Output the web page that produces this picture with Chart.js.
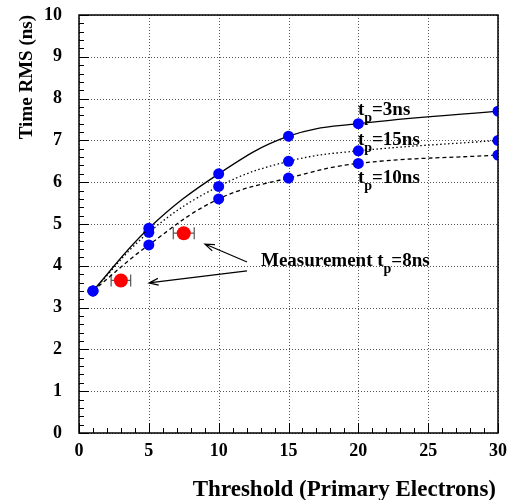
<!DOCTYPE html>
<html>
<head>
<meta charset="utf-8">
<script src="https://cdn.jsdelivr.net/npm/chart.js@4"></script>
<style>
  html, body { margin: 0; padding: 0; background: #fff; }
  #wrap { width: 509px; height: 500px; }
</style>
</head>
<body>
<div id="wrap"><canvas id="myChart" width="509" height="500"></canvas></div>
<script>
// thresholds (primary electrons)
var threshold = [1, 5, 10, 15, 20, 30];
// time RMS (ns) for each peaking time
var rms_tp3  = [3.4, 4.9, 6.2, 7.1, 7.4, 7.7];
var rms_tp15 = [3.4, 4.8, 5.9, 6.5, 6.75, 7.0];
var rms_tp10 = [3.4, 4.5, 5.6, 6.1, 6.45, 6.65];
// measurement tp=8ns
var measX   = [3.0, 7.5];
var measY   = [3.65, 4.78];
var measErr = [0.7, 0.75];

var xTicks = [0, 5, 10, 15, 20, 25, 30];
var yTicks = [0, 1, 2, 3, 4, 5, 6, 7, 8, 9, 10];

function pts(xs, ys) {
  var out = [];
  for (var i = 0; i < xs.length; i++) out.push({x: xs[i], y: ys[i]});
  return out;
}

var FONT = "'Liberation Serif', 'Times New Roman', serif";

// text with a "p" subscript after "t"
function subText(ctx, x, y, pre, post, size) {
  ctx.font = 'bold ' + size + 'px ' + FONT;
  ctx.fillText(pre + 't', x, y);
  var w = ctx.measureText(pre + 't').width;
  ctx.font = 'bold ' + Math.round(size * 0.72) + 'px ' + FONT;
  ctx.fillText('p', x + w, y + 7);
  var w2 = ctx.measureText('p').width;
  ctx.font = 'bold ' + size + 'px ' + FONT;
  ctx.fillText(post, x + w + w2, y);
}

function arrow(ctx, x1, y1, x2, y2) {
  ctx.beginPath();
  ctx.moveTo(x1, y1);
  ctx.lineTo(x2, y2);
  var a = Math.atan2(y2 - y1, x2 - x1);
  var L = 10, s = 0.35;
  ctx.moveTo(x2 - L * Math.cos(a - s), y2 - L * Math.sin(a - s));
  ctx.lineTo(x2, y2);
  ctx.lineTo(x2 - L * Math.cos(a + s), y2 - L * Math.sin(a + s));
  ctx.stroke();
}

const rootStyle = {
  id: 'rootStyle',
  beforeDatasetsDraw(chart) {
    var ctx = chart.ctx, a = chart.chartArea, xs = chart.scales.x, ys = chart.scales.y;
    ctx.save();
    // dotted grid at major ticks
    ctx.strokeStyle = '#555';
    ctx.lineWidth = 1;
    ctx.setLineDash([1, 2]);
    ctx.beginPath();
    xTicks.forEach(function (v) {
      var px = Math.round(xs.getPixelForValue(v)) + 0.5;
      ctx.moveTo(px, a.top); ctx.lineTo(px, a.bottom);
    });
    yTicks.forEach(function (v) {
      var py = Math.round(ys.getPixelForValue(v)) + 0.5;
      ctx.moveTo(a.left, py); ctx.lineTo(a.right, py);
    });
    ctx.stroke();
    ctx.setLineDash([]);
    // error bars of the measurement
    ctx.strokeStyle = '#555';
    ctx.lineWidth = 1.2;
    for (var i = 0; i < measX.length; i++) {
      var x1 = xs.getPixelForValue(measX[i] - measErr[i]);
      var x2 = xs.getPixelForValue(measX[i] + measErr[i]);
      var yy = ys.getPixelForValue(measY[i]);
      ctx.beginPath();
      ctx.moveTo(x1, yy); ctx.lineTo(x2, yy);
      ctx.moveTo(x1, yy - 6); ctx.lineTo(x1, yy + 6);
      ctx.moveTo(x2, yy - 6); ctx.lineTo(x2, yy + 6);
      ctx.stroke();
    }
    ctx.restore();
  },
  afterDraw(chart) {
    var ctx = chart.ctx, a = chart.chartArea, xs = chart.scales.x, ys = chart.scales.y;
    ctx.save();
    ctx.strokeStyle = '#000';
    ctx.lineWidth = 1;
    // inner ticks
    ctx.beginPath();
    for (var v = 0; v <= 30; v += 1) {
      var px = Math.round(xs.getPixelForValue(v)) + 0.5;
      var len = (v % 5 === 0) ? 10 : 5;
      ctx.moveTo(px, a.bottom); ctx.lineTo(px, a.bottom - len);
    }
    for (var k = 0; k <= 50; k++) {
      var py = Math.round(ys.getPixelForValue(k * 0.2)) + 0.5;
      var l2 = (k % 5 === 0) ? 10 : 5;
      ctx.moveTo(a.left, py); ctx.lineTo(a.left + l2, py);
    }
    ctx.stroke();
    // frame
    ctx.lineWidth = 1.5;
    ctx.strokeRect(a.left, a.top, a.right - a.left, a.bottom - a.top);

    // annotations
    ctx.fillStyle = '#000';
    ctx.textBaseline = 'alphabetic';
    ctx.textAlign = 'left';
    subText(ctx, xs.getPixelForValue(19.97), ys.getPixelForValue(7.6), '', '=3ns', 19);
    subText(ctx, xs.getPixelForValue(19.97), ys.getPixelForValue(6.89), '', '=15ns', 19);
    subText(ctx, xs.getPixelForValue(19.97), ys.getPixelForValue(5.98), '', '=10ns', 19);
    subText(ctx, xs.getPixelForValue(13.03), ys.getPixelForValue(4.0), 'Measurement ', '=8ns', 19);

    ctx.lineWidth = 1.2;
    arrow(ctx, xs.getPixelForValue(12.03), ys.getPixelForValue(4.09), xs.getPixelForValue(9.02), ys.getPixelForValue(4.52));
    arrow(ctx, xs.getPixelForValue(12.03), ys.getPixelForValue(3.88), xs.getPixelForValue(5.01), ys.getPixelForValue(3.59));

    // axis titles
    ctx.font = 'bold 23px ' + FONT;
    ctx.textAlign = 'right';
    ctx.fillText('Threshold (Primary Electrons)', a.right - 2, 496);
    ctx.font = 'bold 19px ' + FONT;
    ctx.translate(32, a.top);
    ctx.rotate(-Math.PI / 2);
    ctx.textAlign = 'right';
    ctx.fillText('Time RMS (ns)', 0, 0);
    ctx.restore();
  }
};

function lineSet(label, data, dash) {
  return {
    type: 'line',
    label: label,
    data: pts(threshold, data),
    borderColor: '#000',
    borderWidth: 1.3,
    borderDash: dash,
    tension: 0.4,
    pointRadius: 5.5,
    pointBackgroundColor: '#0000ff',
    pointBorderColor: '#0000ff',
    pointBorderWidth: 0,
    clip: 0
  };
}

const ctx = document.getElementById('myChart').getContext('2d');
const myChart = new Chart(ctx, {
  type: 'line',
  data: {
    datasets: [
      {
        type: 'scatter',
        label: 'Measurement tp=8ns',
        data: pts(measX, measY),
        pointRadius: 7,
        pointBackgroundColor: '#ff0000',
        pointBorderColor: '#ff0000',
        pointBorderWidth: 0,
        showLine: false
      },
      lineSet('tp=3ns', rms_tp3, []),
      lineSet('tp=15ns', rms_tp15, [1.5, 2.5]),
      lineSet('tp=10ns', rms_tp10, [4, 3])
    ]
  },
  options: {
    responsive: false,
    animation: false,
    layout: { padding: { left: 0, right: 11, top: 15, bottom: 0 } },
    plugins: { legend: { display: false }, tooltip: { enabled: false } },
    scales: {
      x: {
        type: 'linear',
        min: 0, max: 30,
        afterBuildTicks: function (s) { s.ticks = xTicks.map(function (v) { return {value: v}; }); },
        afterFit: function (s) { s.height = 67; s.paddingLeft = 0; s.paddingRight = 0; },
        border: { display: false },
        grid: { display: false },
        ticks: { padding: 0, color: '#000', font: { family: FONT, size: 18, weight: 'bold' }, maxRotation: 0 }
      },
      y: {
        min: 0, max: 10,
        afterBuildTicks: function (s) { s.ticks = yTicks.map(function (v) { return {value: v}; }); },
        afterFit: function (s) { s.width = 79; s.paddingTop = 0; s.paddingBottom = 0; },
        border: { display: false },
        grid: { display: false },
        ticks: { padding: 9, color: '#000', font: { family: FONT, size: 18, weight: 'bold' } }
      }
    }
  },
  plugins: [rootStyle]
});
</script>
</body>
</html>
